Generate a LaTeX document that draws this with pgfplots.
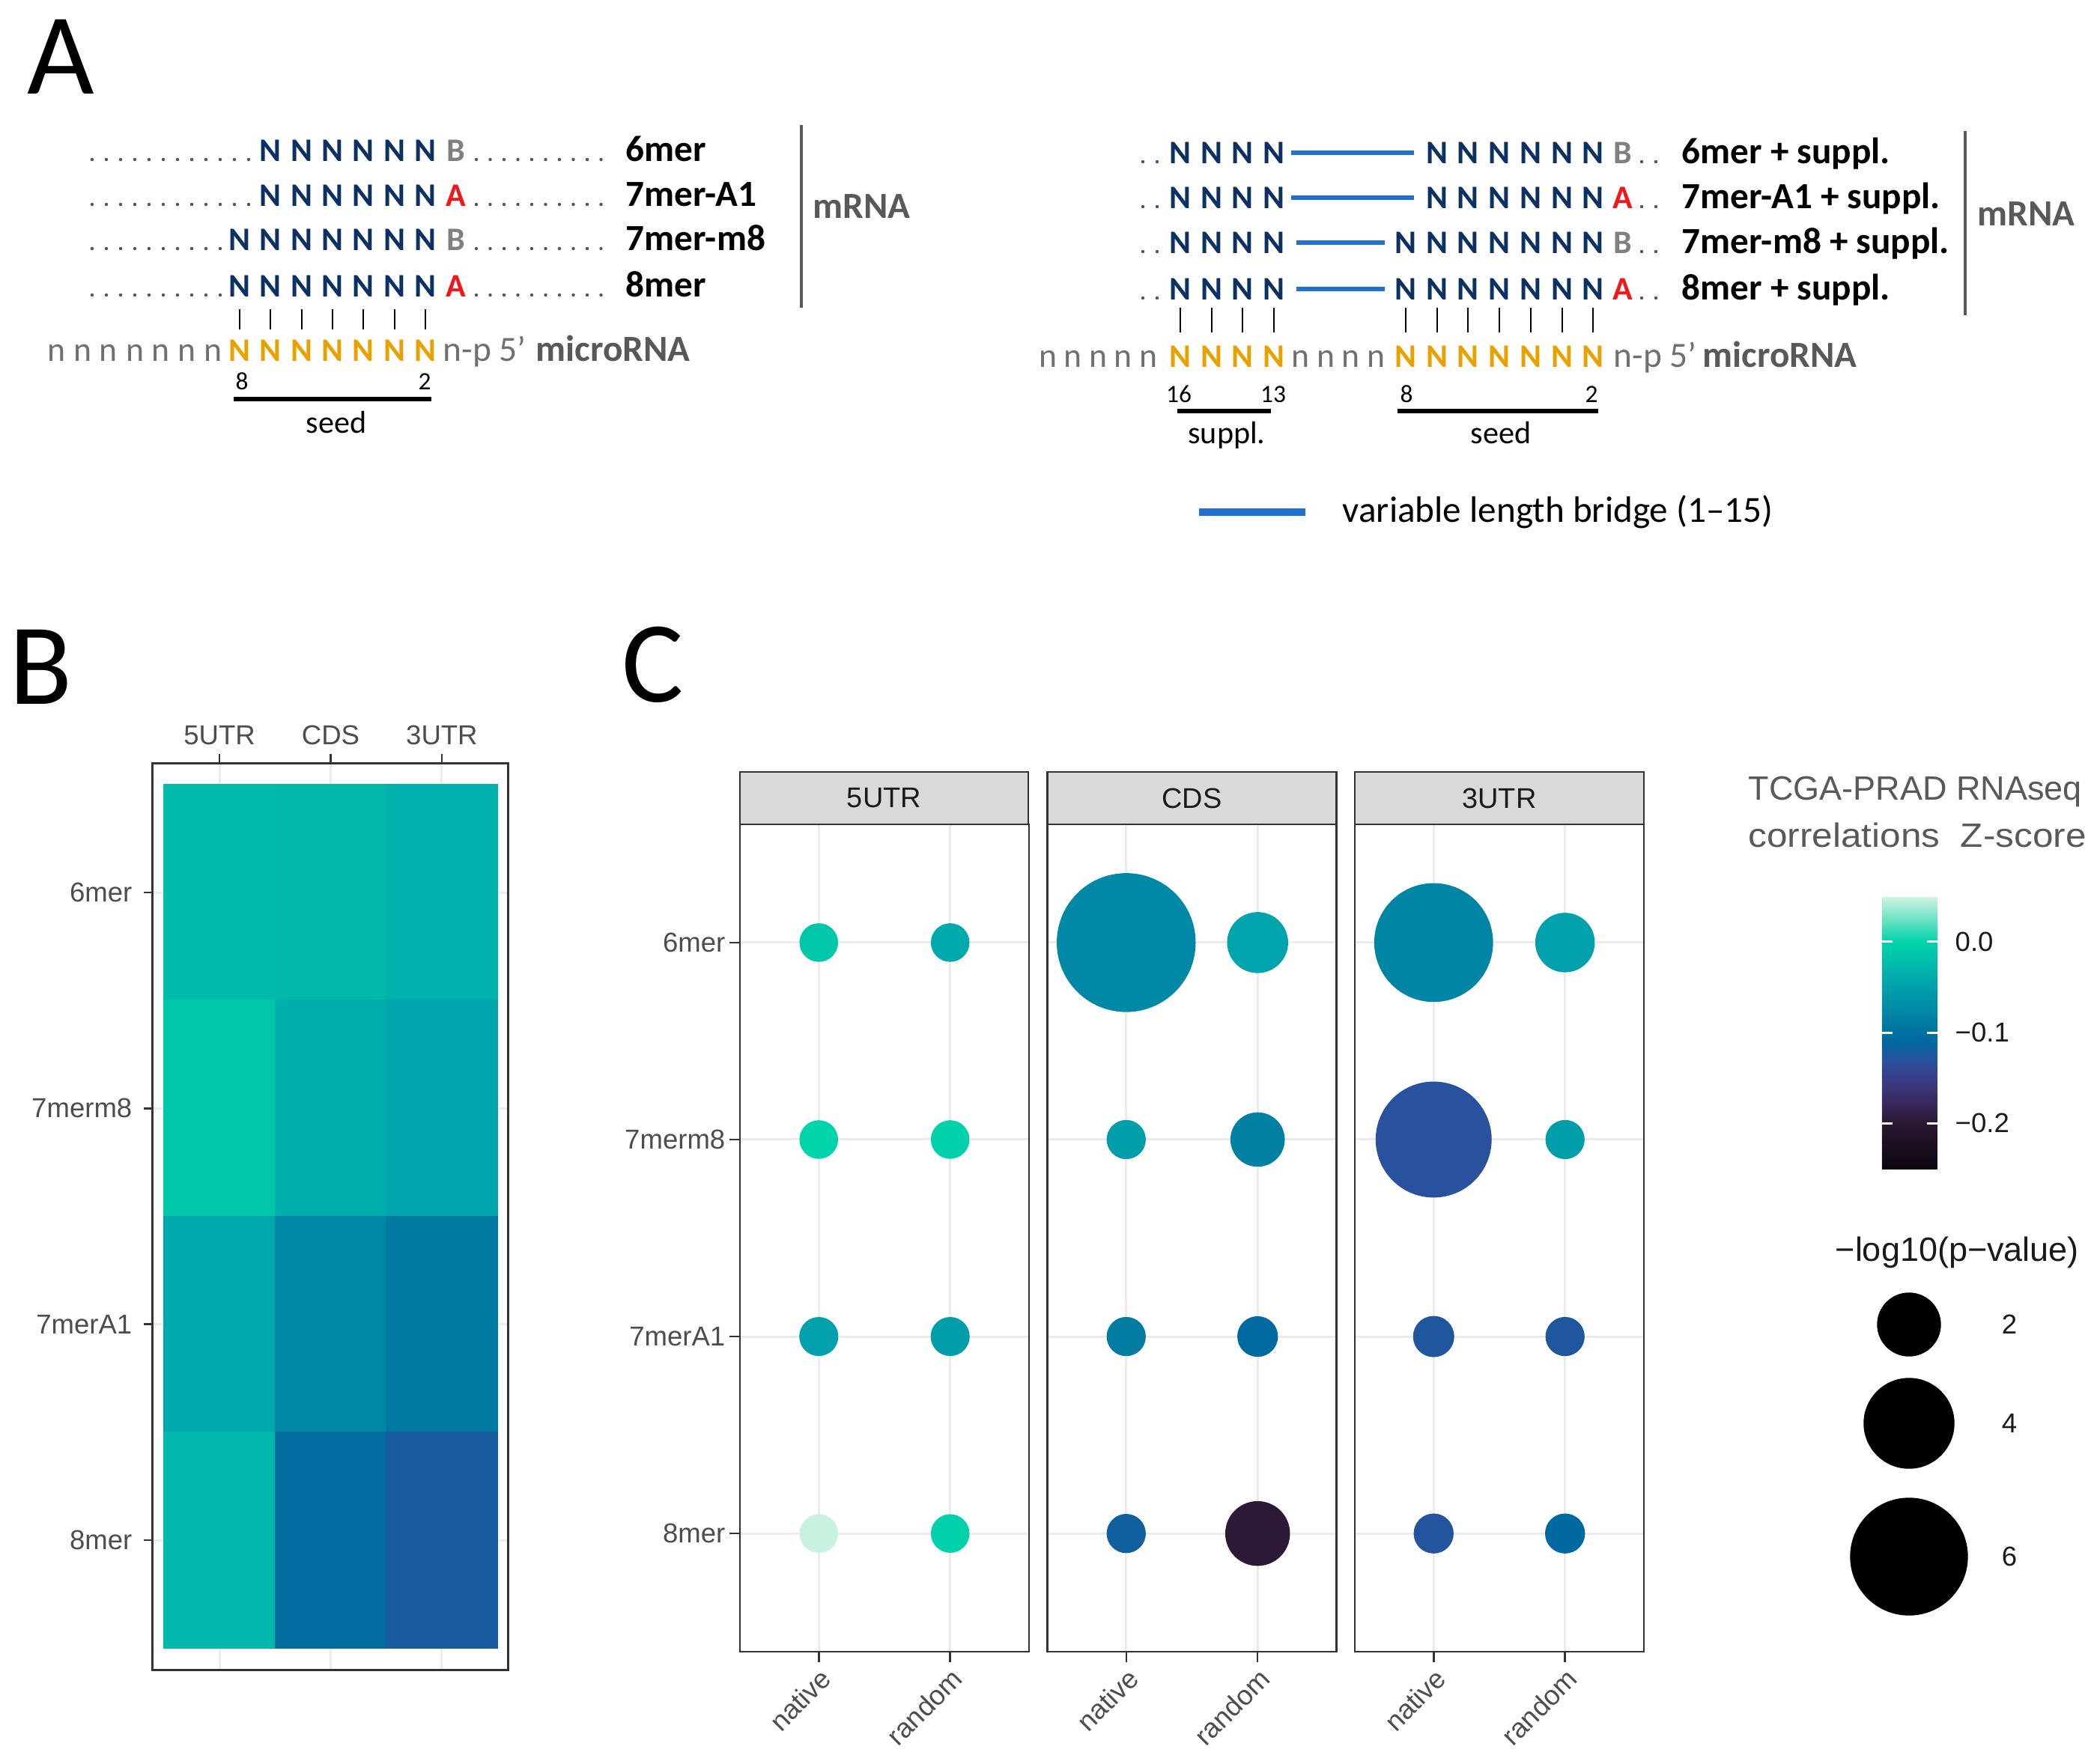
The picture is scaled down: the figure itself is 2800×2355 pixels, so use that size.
\documentclass[border=0pt]{standalone}
\usepackage{fontspec}
\setmainfont{Carlito}
\newfontfamily\hel{Liberation Sans}
\usepackage{pgfplots}
\pgfplotsset{compat=1.18}
\usetikzlibrary{calc}

\definecolor{nblue}{RGB}{11,48,98}
\definecolor{ared}{RGB}{240,24,24}
\definecolor{bgray}{RGB}{128,128,128}
\definecolor{seedor}{RGB}{232,162,0}
\definecolor{bridgec}{RGB}{31,112,208}
\definecolor{ngray}{RGB}{112,112,112}
\definecolor{dgray}{RGB}{89,89,89}
\definecolor{dotc}{RGB}{85,85,85}
\definecolor{gg33}{RGB}{51,51,51}
\definecolor{gg4d}{RGB}{77,77,77}
\definecolor{gg1a}{RGB}{26,26,26}
\definecolor{gridc}{RGB}{235,235,235}
\definecolor{stripc}{RGB}{217,217,217}

% Z-score colours, position = (z+0.25)*200
\pgfplotsset{colormap={zs}{[1pt]
  rgb255(0pt)=(12,6,14)
  rgb255(10pt)=(42,24,50)
  rgb255(15pt)=(58,42,98)
  rgb255(20pt)=(58,62,136)
  rgb255(24pt)=(40,82,158)
  rgb255(28pt)=(0,104,160)
  rgb255(32pt)=(0,122,162)
  rgb255(40pt)=(0,160,172)
  rgb255(50pt)=(0,212,170)
  rgb255(55pt)=(110,226,196)
  rgb255(60pt)=(212,243,228)
}}

\pgfplotsset{
  ggtick/.style={font=\hel\fontsize{10.4}{12.5}\selectfont, text=gg4d},
  facet/.style={
    scale only axis, width=38.6mm, height=110.5mm, anchor=north west,
    xmin=0.4, xmax=2.6, ymin=0.4, ymax=4.6, y dir=reverse,
    xtick={1,2}, xticklabels={native,random},
    ytick={1,2,3,4}, yticklabels={6mer,7merm8,7merA1,8mer},
    grid=major, major grid style={draw=gridc, line width=0.3mm},
    axis line style={draw=gg33, line width=0.25mm},
    tick style={draw=gg33, line width=0.25mm},
    tick align=outside, major tick length=1.4mm,
    xtick pos=lower, ytick pos=left,
    tick label style={ggtick},
    x tick label style={rotate=45, anchor=north east, inner sep=0.4mm},
    y tick label style={inner sep=0.5mm},
    colormap name=zs, point meta min=-0.25, point meta max=0.05,
  },
  bub/.style={scatter, only marks, mark=*, point meta=explicit,
    scatter/use mapped color={draw=mapped color, fill=mapped color},
    visualization depends on={0.28453*(24+9*\thisrow{p}) \as \rad},
    scatter/@pre marker code/.append style={/tikz/mark size=\rad},
  },
}

\tikzset{
  nt/.style={anchor=base, inner sep=0pt, font=\fontsize{12.5}{15}\selectfont\bfseries},
  lab/.style={anchor=base west, inner sep=0pt, font=\fontsize{14}{17}\selectfont\bfseries},
  nn/.style={anchor=base, inner sep=0pt, font=\fontsize{13}{15}\selectfont, text=ngray},
  num/.style={anchor=base, inner sep=0pt, font=\fontsize{9.5}{11}\selectfont},
  big/.style={anchor=base west, inner sep=0pt, font=\fontsize{44}{50}\selectfont},
}

% baseline, first N, last letter, its colour, label, dots on the left
\newcommand\leftrow[6]{%
  \foreach \k in {#2,...,7}{\node[nt,text=nblue] at ({320+41.3*(\k-1)},#1) {N};}
  \node[nt,text=#4] at (609,#1) {#3};
  \foreach \d in {1,...,#6}{\fill[dotc] ({123+19*(\d-1)},#1-2) circle[radius=0.22mm];}
  \foreach \d in {0,...,9}{\fill[dotc] ({636+18.5*\d},#1-2) circle[radius=0.22mm];}
  \node[lab] at (835,#1) {#5};
}
% baseline, first seed N, last letter, its colour, label, bridge from, bridge to
\newcommand\rightrow[7]{%
  \fill[dotc] (1526,#1-2) circle[radius=0.22mm];
  \fill[dotc] (1545,#1-2) circle[radius=0.22mm];
  \foreach \k in {0,...,3}{\node[nt,text=nblue] at ({1576+41.6*\k},#1) {N};}
  \draw[bridgec, line width=0.65mm] (#6,#1-14) -- (#7,#1-14);
  \foreach \k in {#2,...,7}{\node[nt,text=nblue] at ({1877+41.7*(\k-1)},#1) {N};}
  \node[nt,text=#4] at (2167,#1) {#3};
  \fill[dotc] (2192,#1-2) circle[radius=0.22mm];
  \fill[dotc] (2211,#1-2) circle[radius=0.22mm];
  \node[lab] at (2245,#1) {#5};
}

\begin{document}
\begin{tikzpicture}[x=0.1mm, y=-0.1mm]
\fill[white] (0,0) rectangle (2800,2355);
\path[use as bounding box] (0,0) rectangle (2800,2355);

% ---------------- panel A ----------------
\node[big] at (36,125) {A};

\leftrow{215}{2}{B}{bgray}{6mer}{12}
\leftrow{275}{2}{A}{ared}{7mer-A1}{12}
\leftrow{334}{1}{B}{bgray}{7mer-m8}{10}
\leftrow{396}{1}{A}{ared}{8mer}{10}
\draw[dgray, line width=0.4mm] (1070,167) -- (1070,411);
\node[lab,text=dgray] at (1085,291) {mRNA};

\foreach \k in {0,...,6}{\draw[line width=0.2mm] ({320+41.3*\k},413) -- ({320+41.3*\k},440);}
\foreach \x in {76,110,145,180,214,249,284}{\node[nn] at (\x,482) {n};}
\foreach \k in {0,...,6}{\node[nt,text=seedor] at ({320+41.3*\k},482) {N};}
\node[anchor=base west, inner sep=0pt, font=\fontsize{13.5}{15}\selectfont, text=ngray] at (591,482) {n-p 5’};
\node[lab,text=dgray] at (715,482) {microRNA};
\node[num] at (323,520) {8};
\node[num] at (567,520) {2};
\draw[line width=0.55mm] (312,533) -- (576,533);
\node[anchor=base, inner sep=0pt, font=\fontsize{12}{14}\selectfont] at (449,578) {seed};

\rightrow{218}{2}{B}{bgray}{6mer + suppl.}{1724}{1888}
\rightrow{278}{2}{A}{ared}{7mer-A1 + suppl.}{1724}{1888}
\rightrow{338}{1}{B}{bgray}{7mer-m8 + suppl.}{1731}{1849}
\rightrow{400}{1}{A}{ared}{8mer + suppl.}{1731}{1849}
\draw[dgray, line width=0.4mm] (2624,175) -- (2624,421);
\node[lab,text=dgray] at (2640,301) {mRNA};

\foreach \k in {0,...,3}{\draw[line width=0.2mm] ({1576+41.6*\k},411) -- ({1576+41.6*\k},444);}
\foreach \k in {0,...,6}{\draw[line width=0.2mm] ({1877+41.7*\k},411) -- ({1877+41.7*\k},444);}
\foreach \x in {1399,1432,1466,1499,1533}{\node[nn] at (\x,490) {n};}
\foreach \k in {0,...,3}{\node[nt,text=seedor] at ({1576+41.6*\k},490) {N};}
\foreach \x in {1736,1770,1803,1837}{\node[nn] at (\x,490) {n};}
\foreach \k in {0,...,6}{\node[nt,text=seedor] at ({1877+41.7*\k},490) {N};}
\node[anchor=base west, inner sep=0pt, font=\fontsize{13.5}{15}\selectfont, text=ngray] at (2154,490) {n-p 5’};
\node[lab,text=dgray] at (2273,490) {microRNA};
\node[num] at (1574,537) {16};
\node[num] at (1700,537) {13};
\node[num] at (1878,537) {8};
\node[num] at (2125,537) {2};
\draw[line width=0.55mm] (1572,549) -- (1697,549);
\draw[line width=0.55mm] (1866,549) -- (2134,549);
\node[anchor=base, inner sep=0pt, font=\fontsize{12}{14}\selectfont] at (1638,592) {suppl.};
\node[anchor=base, inner sep=0pt, font=\fontsize{12}{14}\selectfont] at (2004,592) {seed};

\draw[bridgec, line width=1mm] (1601,684) -- (1743,684);
\node[anchor=base west, inner sep=0pt, font=\fontsize{14}{17}\selectfont] at (1792,697) {variable length bridge (1–15)};

% ---------------- panel B ----------------
\node[big] at (12,940) {B};
\begin{axis}[at={(20.4mm,-101.9mm)}, anchor=north west,
  scale only axis, width=47.5mm, height=121.1mm,
  xmin=0.4, xmax=3.6, ymin=0.4, ymax=4.6, y dir=reverse,
  xtick={1,2,3}, xticklabels={5UTR,CDS,3UTR},
  ytick={1,2,3,4}, yticklabels={6mer,7merm8,7merA1,8mer},
  xtick pos=upper, xticklabel pos=upper, ytick pos=left,
  tick align=outside, major tick length=1.2mm,
  grid=major, major grid style={draw=gridc, line width=0.3mm},
  axis line style={draw=gg33, line width=0.3mm},
  tick style={draw=gg33, line width=0.25mm},
  tick label style={ggtick},
  y tick label style={inner sep=0.5mm, xshift=-1mm},
  colormap name=zs, point meta min=-0.25, point meta max=0.05,
]
\addplot[matrix plot*, mesh/cols=3, point meta=explicit] table[x=x, y=y, meta=z] {
x y z
1 1 -0.025
2 1 -0.026
3 1 -0.035
1 2 -0.012
2 2 -0.036
3 2 -0.046
1 3 -0.040
2 3 -0.075
3 3 -0.090
1 4 -0.027
2 4 -0.105
3 4 -0.122
};
\end{axis}

% ---------------- panel C ----------------
\node[big] at (830,937) {C};

\begin{axis}[facet, at={(98.8mm,-110.1mm)}]
\addplot[bub] table[x=x, y=y, meta=z] {
x y z p
1 1 -0.012 0.12
2 1 -0.040 0.12
1 2 0.000 0.12
2 2 -0.003 0.12
1 3 -0.050 0.15
2 3 -0.053 0.15
1 4 0.047 0.12
2 4 -0.003 0.12
};
\end{axis}

\begin{axis}[facet, at={(139.85mm,-110.1mm)}, yticklabels={}, ytick style={draw=none}]
\addplot[bub] table[x=x, y=y, meta=z] {
x y z p
1 1 -0.075 7.56
2 1 -0.046 1.78
1 2 -0.052 0.16
2 2 -0.083 1.29
1 3 -0.088 0.16
2 3 -0.108 0.27
1 4 -0.118 0.16
2 4 -0.198 2.06
};
\end{axis}

\begin{axis}[facet, at={(180.9mm,-110.1mm)}, yticklabels={}, ytick style={draw=none},
  colorbar, colorbar/width=7.4mm,
  colorbar style={
    at={($(parent axis.north east)+(28.8mm,-9.6mm)$)}, anchor=north west,
    height=36.4mm,
    ytick={-0.2,-0.1,0}, yticklabels={−0.2,−0.1,0.0},
    axis line style={draw=none},
    ytick style={draw=white, line width=0.3mm},
    tick align=inside, major tick length=1.4mm,
    ytick pos=both, yticklabel pos=right,
    tick label style={font=\hel\fontsize{10.4}{12.5}\selectfont, text=gg1a},
    yticklabel style={font=\hel\fontsize{10.4}{12.5}\selectfont, text=gg1a,
      anchor=west, inner sep=0pt, xshift=2.3mm},
  },
]
\addplot[bub] table[x=x, y=y, meta=z] {
x y z p
1 1 -0.078 6.07
2 1 -0.050 1.67
1 2 -0.130 5.86
2 2 -0.053 0.16
1 3 -0.125 0.31
2 3 -0.125 0.16
1 4 -0.128 0.22
2 4 -0.110 0.22
};
\end{axis}

% facet strips
\foreach \x/\w/\t in {988/1373/5UTR, 1398.5/1784.5/CDS, 1809/2195/3UTR}{
  \draw[fill=stripc, draw=gg33, line width=0.25mm] (\x,1031) rectangle (\w,1101);
  \node[font=\hel\fontsize{10.8}{13}\selectfont, text=gg1a] at ({(\x+\w)/2},1066) {\t};
}

% legend titles
\node[anchor=base west, inner sep=0pt, font=\hel\fontsize{12.8}{15}\selectfont, text=dgray] at (2334,1068) {TCGA-PRAD RNAseq};
\node[anchor=base west, inner sep=0pt, font=\hel\fontsize{12.8}{15}\selectfont, text=dgray] at (2334,1131) {\scalebox{1.1}[1]{correlations\ \ Z-score}};
\node[anchor=base west, inner sep=0pt, font=\hel\fontsize{12.8}{15}\selectfont, text=gg1a] at (2450,1684) {−log10(p−value)};

% size legend
\begin{axis}[at={(244.9mm,-170mm)}, anchor=north west, scale only axis,
  width=20mm, height=46mm, xmin=0, xmax=1, ymin=1700, ymax=2160,
  y dir=reverse, hide axis, clip=false]
\addplot[only marks, mark=*, black,
  visualization depends on={0.28453*(24+9*\thisrow{p}) \as \rad},
  scatter, point meta=explicit,
  scatter/use mapped color={draw=black, fill=black},
  scatter/@pre marker code/.append style={/tikz/mark size=\rad}]
  table[x=x, y=y, meta=p] {
x y p
0.5 1769 2
0.5 1901 4
0.5 2079 6
};
\node[font=\hel\fontsize{10.4}{12.5}\selectfont, text=gg1a] at (axis cs:1.17,1769) {2};
\node[font=\hel\fontsize{10.4}{12.5}\selectfont, text=gg1a] at (axis cs:1.17,1901) {4};
\node[font=\hel\fontsize{10.4}{12.5}\selectfont, text=gg1a] at (axis cs:1.17,2079) {6};
\end{axis}

\end{tikzpicture}
\end{document}
